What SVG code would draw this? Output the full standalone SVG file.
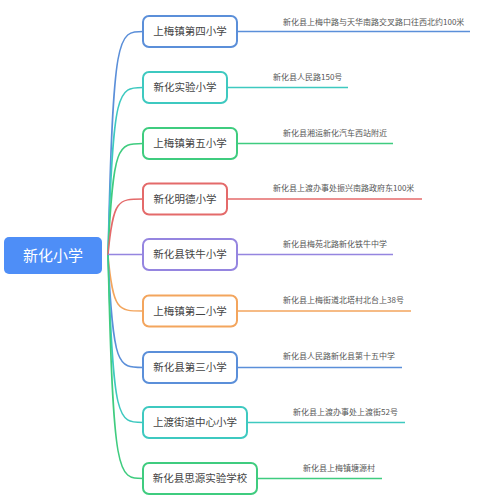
<svg xmlns="http://www.w3.org/2000/svg" width="480" height="500" viewBox="0 0 480 500">
<style>
.bg{fill:#ffffff}
.node rect{fill:#ffffff;stroke-width:2}
.nt{font-family:"Noto Sans CJK SC","Noto Sans",sans-serif;font-size:10.5px;fill:#444444;text-anchor:middle}
.at{font-family:"Noto Sans CJK SC","Noto Sans",sans-serif;font-size:8px;fill:#555555}
.c{fill:none;stroke-width:1.5}
.blue{stroke:#5b8fd9}.teal{stroke:#3ec9c0}.green{stroke:#3fcc7f}.red{stroke:#e46a6a}.purple{stroke:#9585e0}.orange{stroke:#f3a55d}
</style>
<rect class="bg" x="0" y="0" width="480" height="500"/>
<g id="connectors">
<path class="c blue" d="M108 255 C113 31.5 118 31.5 143 31.5"/>
<path class="c teal" d="M108 255 C113 87.5 118 87.5 143 87.5"/>
<path class="c green" d="M108 255 C113 143.5 118 143.5 143 143.5"/>
<path class="c red" d="M108 255 C113 199 118 199 143 199"/>
<path class="c purple" d="M108 254.5 L143 254.5"/>
<path class="c orange" d="M108 255 C113 311 118 311 143 311"/>
<path class="c blue" d="M108 255 C113 367.5 118 367.5 143 367.5"/>
<path class="c teal" d="M108 255 C113 422.5 118 422.5 143 422.5"/>
<path class="c green" d="M108 255 C113 478.5 118 478.5 143 478.5"/>
<path class="c blue" d="M237 31.5 H470"/>
<path class="c teal" d="M227 87.5 H348"/>
<path class="c green" d="M237 143.5 H393"/>
<path class="c red" d="M227 199 H422"/>
<path class="c purple" d="M237 254.5 H393"/>
<path class="c orange" d="M237 311 H411"/>
<path class="c blue" d="M237 367.5 H402"/>
<path class="c teal" d="M247 422.5 H405"/>
<path class="c green" d="M257 478.5 H382"/>
</g>
<g id="root">
<rect x="4" y="237" width="98" height="37" rx="5" fill="#4e8ef7"/>
<text x="53" y="261" font-family="'Noto Sans CJK SC','Noto Sans',sans-serif" font-size="15" fill="#ffffff" text-anchor="middle">新化小学</text>
</g>
<g id="n1" class="node"><rect class="blue" x="143" y="16" width="94" height="31" rx="6"/><text class="nt" x="190" y="35.2">上梅镇第四小学</text><text class="at" x="283" y="24.5">新化县上梅中路与天华南路交叉路口往西北约100米</text></g>
<g id="n2" class="node"><rect class="teal" x="143" y="72" width="84" height="31" rx="6"/><text class="nt" x="185" y="91.2">新化实验小学</text><text class="at" x="273" y="80">新化县人民路150号</text></g>
<g id="n3" class="node"><rect class="green" x="143" y="128" width="94" height="31" rx="6"/><text class="nt" x="190" y="147.2">上梅镇第五小学</text><text class="at" x="283" y="136">新化县湘运新化汽车西站附近</text></g>
<g id="n4" class="node"><rect class="red" x="143" y="183.5" width="84" height="31" rx="6"/><text class="nt" x="185" y="202.7">新化明德小学</text><text class="at" x="273" y="191">新化县上渡办事处振兴南路政府东100米</text></g>
<g id="n5" class="node"><rect class="purple" x="143" y="239" width="94" height="31" rx="6"/><text class="nt" x="190" y="258.2">新化县铁牛小学</text><text class="at" x="283" y="247">新化县梅苑北路新化铁牛中学</text></g>
<g id="n6" class="node"><rect class="orange" x="143" y="295.5" width="94" height="31" rx="6"/><text class="nt" x="190" y="314.7">上梅镇第二小学</text><text class="at" x="283" y="303">新化县上梅街道北塔村北台上38号</text></g>
<g id="n7" class="node"><rect class="blue" x="143" y="352" width="94" height="31" rx="6"/><text class="nt" x="190" y="371.2">新化县第三小学</text><text class="at" x="283" y="359">新化县人民路新化县第十五中学</text></g>
<g id="n8" class="node"><rect class="teal" x="143" y="407" width="104" height="31" rx="6"/><text class="nt" x="195" y="426.2">上渡街道中心小学</text><text class="at" x="293" y="414.5">新化县上渡办事处上渡街52号</text></g>
<g id="n9" class="node"><rect class="green" x="143" y="463" width="114" height="31" rx="6"/><text class="nt" x="200" y="482.2">新化县思源实验学校</text><text class="at" x="303" y="470.5">新化县上梅镇塘源村</text></g>
</svg>
